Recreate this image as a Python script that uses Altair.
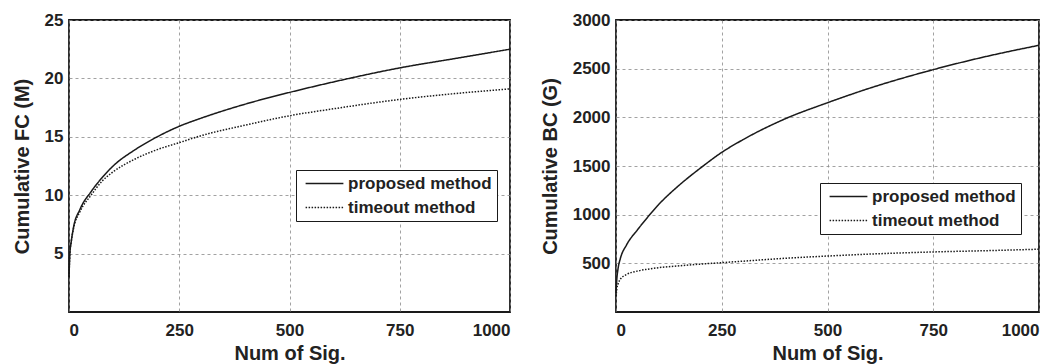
import altair as alt
import pandas as pd

FONT = "Liberation Sans"
methods = ["proposed method", "timeout method"]

# Left panel: Cumulative FC (M)
fc_x = [0, 2, 5, 10, 25, 50, 75, 100, 150, 200, 250, 300, 400, 500, 600, 750, 875, 1000]
fc_proposed = [3.0, 5.0, 6.0, 7.2, 8.8, 10.3, 11.5, 12.5, 13.9, 15.0, 15.9, 16.6, 17.8, 18.8, 19.7, 20.9, 21.7, 22.5]
fc_timeout = [3.0, 5.0, 6.0, 7.1, 8.6, 10.0, 11.2, 12.0, 13.1, 13.9, 14.5, 15.1, 16.0, 16.8, 17.4, 18.2, 18.7, 19.1]

# Right panel: Cumulative BC (G)
bc_x = [0, 2, 5, 10, 25, 50, 75, 100, 150, 200, 250, 300, 400, 500, 600, 750, 875, 1000]
bc_proposed = [200, 340, 450, 545, 690, 840, 975, 1100, 1305, 1480, 1640, 1770, 1985, 2150, 2300, 2490, 2625, 2740]
bc_timeout = [160, 240, 290, 335, 385, 420, 440, 455, 475, 492, 507, 522, 552, 575, 595, 617, 630, 645]

x_ticks = [0, 250, 500, 750, 1000]
fc_ticks = [5, 10, 15, 20, 25]
bc_ticks = [500, 1000, 1500, 2000, 2500, 3000]


def long_df(xs, a, b):
    rows = []
    for x, v in zip(xs, a):
        rows.append({"x": x, "y": v, "method": methods[0]})
    for x, v in zip(xs, b):
        rows.append({"x": x, "y": v, "method": methods[1]})
    return pd.DataFrame(rows)


def panel(df, ymax, yticks, ytitle, lx, ly, width):
    return alt.Chart(df).mark_line(interpolate="monotone", color="#1a1a1a", strokeWidth=1.5).encode(
        x=alt.X("x:Q", scale=alt.Scale(domain=[0, 1000], nice=False),
                axis=alt.Axis(values=x_ticks, title="Num of Sig.", format="d")),
        y=alt.Y("y:Q", scale=alt.Scale(domain=[0, ymax], nice=False),
                axis=alt.Axis(values=yticks, title=ytitle, format="d")),
        strokeDash=alt.StrokeDash(
            "method:N",
            scale=alt.Scale(domain=methods, range=[[1, 0], [1.5, 1.5]]),
            legend=alt.Legend(
                title=None, orient="none", legendX=lx, legendY=ly,
                strokeColor="#1a1a1a", fillColor="white", padding=5,
                symbolType="M-2.7,0H2.7", symbolSize=196, symbolStrokeWidth=1.5,
                symbolStrokeColor="#1a1a1a", symbolFillColor="transparent",
                symbolOffset=15, labelOffset=15,
                labelFont=FONT, labelFontSize=17, labelFontWeight="bold",
                labelColor="#222", rowPadding=6, labelLimit=300,
            ),
        ),
        order="x:Q",
    ).properties(width=width, height=292)


left = panel(long_df(fc_x, fc_proposed, fc_timeout), 25, fc_ticks, "Cumulative FC (M)", 227, 150, 441)
right = panel(long_df(bc_x, bc_proposed, bc_timeout), 3000, bc_ticks, "Cumulative BC (G)", 204, 163, 423)

chart = alt.hconcat(left, right, spacing=25).resolve_scale(
    strokeDash="independent"
).resolve_legend(strokeDash="independent").configure_view(
    stroke="#1a1a1a", strokeWidth=1.8
).configure_axis(
    grid=True, gridColor="#8a8a8a", gridDash=[3, 3], gridWidth=0.8,
    domain=False, ticks=False,
    labelFont=FONT, labelFontSize=17, labelFontWeight="bold", labelColor="#222",
    titleFont=FONT, titleFontSize=20, titleFontWeight="bold", titleColor="#222",
).configure_axisX(
    labelPadding=10, titlePadding=5
).configure_axisY(
    labelPadding=6, titlePadding=12
).properties(padding={"left": 3, "top": 2, "right": 0, "bottom": 0}, background="white")

chart.save("out.html", embed_options={"renderer": "svg", "actions": False})
